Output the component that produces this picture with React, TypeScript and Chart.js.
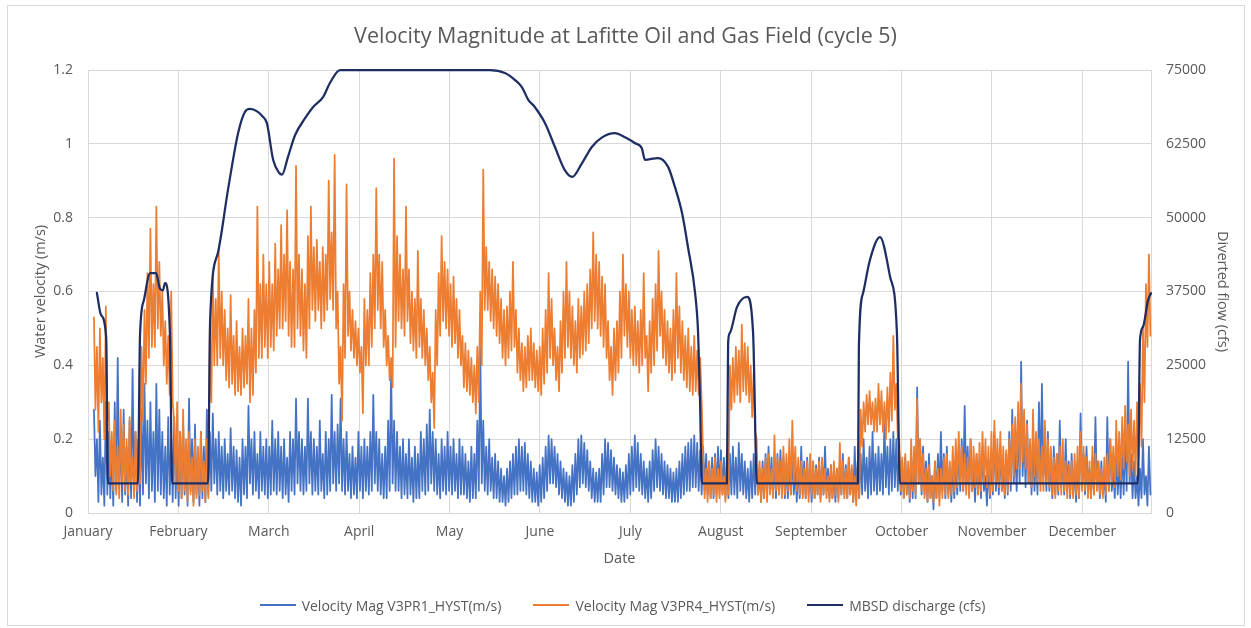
import React, { useEffect, useRef } from "react";
import { Chart, registerables } from "chart.js";

Chart.register(...registerables);

const CHART_TITLE = "Velocity Magnitude at Lafitte Oil and Gas Field (cycle 5)";
const X_TITLE = "Date";
const Y_LEFT_TITLE = "Water velocity (m/s)";
const Y_RIGHT_TITLE = "Diverted flow (cfs)";

const MONTH_LABELS = [
  "January", "February", "March", "April", "May", "June",
  "July", "August", "September", "October", "November", "December",
];
const DAYS_PER_MONTH = 365 / 12;
const LAST_DAY = 357.7;

const VELOCITY_MAX = 1.2;
const VELOCITY_STEP = 0.2;
const FLOW_MAX = 75000;
const FLOW_STEP = 12500;

const SERIES_NAMES = [
  "Velocity Mag V3PR1_HYST(m/s)",
  "Velocity Mag V3PR4_HYST(m/s)",
  "MBSD discharge (cfs)",
];

// Daily high / low of each velocity trace (m/s), first value on day 2
const VELOCITY_FIRST_DAY = 2;

const V3PR1_DAILY_HIGH = [
  0.28, 0.20, 0.25, 0.15, 0.30, 0.22, 0.18, 0.30, 0.42, 0.20,
  0.28, 0.18, 0.25, 0.39, 0.22, 0.20, 0.28, 0.35, 0.25, 0.30,
  0.22, 0.35, 0.28, 0.22, 0.18, 0.26, 0.20, 0.26, 0.18, 0.22,
  0.25, 0.18, 0.31, 0.20, 0.24, 0.16, 0.22, 0.18, 0.28, 0.22,
  0.27, 0.20, 0.22, 0.18, 0.20, 0.16, 0.23, 0.18, 0.17, 0.15,
  0.20, 0.18, 0.29, 0.20, 0.22, 0.16, 0.22, 0.18, 0.20, 0.18,
  0.25, 0.20, 0.22, 0.18, 0.20, 0.15, 0.22, 0.20, 0.31, 0.22,
  0.20, 0.18, 0.31, 0.22, 0.20, 0.18, 0.25, 0.16, 0.22, 0.20,
  0.32, 0.22, 0.24, 0.31, 0.20, 0.22, 0.16, 0.18, 0.15, 0.22,
  0.18, 0.20, 0.18, 0.22, 0.32, 0.22, 0.20, 0.16, 0.18, 0.25,
  0.39, 0.25, 0.22, 0.18, 0.20, 0.16, 0.20, 0.15, 0.18, 0.16,
  0.22, 0.20, 0.24, 0.28, 0.22, 0.20, 0.16, 0.20, 0.18, 0.22,
  0.18, 0.20, 0.16, 0.20, 0.18, 0.16, 0.14, 0.18, 0.16, 0.25,
  0.45, 0.25, 0.18, 0.20, 0.15, 0.16, 0.14, 0.12, 0.10, 0.12,
  0.14, 0.16, 0.18, 0.20, 0.18, 0.19, 0.16, 0.14, 0.12, 0.11,
  0.13, 0.15, 0.18, 0.21, 0.20, 0.18, 0.16, 0.14, 0.12, 0.11,
  0.10, 0.13, 0.16, 0.20, 0.21, 0.19, 0.17, 0.14, 0.12, 0.11,
  0.12, 0.16, 0.20, 0.19, 0.17, 0.15, 0.13, 0.12, 0.11, 0.13,
  0.16, 0.18, 0.21, 0.19, 0.16, 0.14, 0.12, 0.14, 0.17, 0.20,
  0.18, 0.16, 0.14, 0.13, 0.12, 0.11, 0.12, 0.14, 0.16, 0.18,
  0.19, 0.20, 0.21, 0.19, 0.17, 0.18, 0.16, 0.14, 0.15, 0.16,
  0.18, 0.17, 0.15, 0.14, 0.16, 0.18, 0.15, 0.19, 0.16, 0.14,
  0.12, 0.14, 0.16, 0.15, 0.12, 0.14, 0.16, 0.18, 0.15, 0.14,
  0.16, 0.17, 0.15, 0.13, 0.14, 0.16, 0.12, 0.13, 0.18, 0.14,
  0.15, 0.12, 0.14, 0.13, 0.15, 0.14, 0.18, 0.12, 0.13, 0.11,
  0.12, 0.14, 0.16, 0.13, 0.15, 0.12, 0.18, 0.14, 0.16, 0.20,
  0.15, 0.18, 0.22, 0.16, 0.18, 0.16, 0.25, 0.18, 0.20, 0.22,
  0.20, 0.16, 0.14, 0.15, 0.12, 0.14, 0.16, 0.34, 0.20, 0.18,
  0.14, 0.16, 0.10, 0.14, 0.16, 0.22, 0.16, 0.18, 0.12, 0.14,
  0.15, 0.18, 0.20, 0.29, 0.18, 0.20, 0.12, 0.16, 0.14, 0.18,
  0.10, 0.14, 0.16, 0.22, 0.16, 0.18, 0.12, 0.16, 0.22, 0.28,
  0.18, 0.24, 0.41, 0.22, 0.25, 0.16, 0.20, 0.18, 0.30, 0.35,
  0.18, 0.22, 0.14, 0.18, 0.16, 0.25, 0.15, 0.20, 0.14, 0.16,
  0.12, 0.14, 0.27, 0.16, 0.18, 0.12, 0.15, 0.26, 0.14, 0.14,
  0.10, 0.26, 0.20, 0.12, 0.16, 0.14, 0.18, 0.22, 0.41, 0.16,
  0.14, 0.10, 0.12, 0.20, 0.10, 0.18,
];

const V3PR1_DAILY_LOW = [
  0.10, 0.03, 0.05, 0.02, 0.05, 0.04, 0.02, 0.06, 0.08, 0.03,
  0.05, 0.02, 0.04, 0.06, 0.03, 0.02, 0.05, 0.08, 0.04, 0.06,
  0.03, 0.06, 0.05, 0.04, 0.02, 0.05, 0.03, 0.04, 0.02, 0.04,
  0.05, 0.02, 0.06, 0.03, 0.05, 0.02, 0.04, 0.03, 0.05, 0.06,
  0.08, 0.05, 0.06, 0.04, 0.06, 0.05, 0.06, 0.04, 0.03, 0.02,
  0.05, 0.04, 0.08, 0.05, 0.06, 0.04, 0.06, 0.05, 0.04, 0.05,
  0.06, 0.05, 0.06, 0.04, 0.05, 0.03, 0.06, 0.05, 0.08, 0.06,
  0.05, 0.06, 0.08, 0.05, 0.06, 0.05, 0.06, 0.04, 0.05, 0.06,
  0.08, 0.06, 0.08, 0.06, 0.05, 0.06, 0.04, 0.05, 0.04, 0.06,
  0.04, 0.06, 0.05, 0.06, 0.08, 0.06, 0.05, 0.04, 0.04, 0.06,
  0.08, 0.06, 0.06, 0.04, 0.05, 0.04, 0.05, 0.03, 0.04, 0.04,
  0.06, 0.05, 0.06, 0.08, 0.06, 0.05, 0.04, 0.06, 0.05, 0.06,
  0.05, 0.06, 0.04, 0.05, 0.05, 0.04, 0.03, 0.04, 0.04, 0.06,
  0.08, 0.06, 0.05, 0.06, 0.04, 0.04, 0.03, 0.03, 0.02, 0.03,
  0.04, 0.05, 0.05, 0.06, 0.06, 0.05, 0.04, 0.03, 0.03, 0.02,
  0.03, 0.04, 0.06, 0.08, 0.08, 0.07, 0.05, 0.04, 0.03, 0.02,
  0.02, 0.03, 0.05, 0.07, 0.08, 0.07, 0.06, 0.04, 0.03, 0.03,
  0.03, 0.05, 0.07, 0.07, 0.06, 0.05, 0.04, 0.03, 0.03, 0.04,
  0.05, 0.06, 0.07, 0.06, 0.05, 0.04, 0.03, 0.04, 0.06, 0.07,
  0.06, 0.05, 0.04, 0.04, 0.03, 0.03, 0.03, 0.04, 0.05, 0.06,
  0.06, 0.07, 0.07, 0.06, 0.05, 0.06, 0.05, 0.04, 0.04, 0.05,
  0.06, 0.05, 0.04, 0.04, 0.05, 0.05, 0.04, 0.06, 0.05, 0.04,
  0.03, 0.04, 0.05, 0.05, 0.03, 0.04, 0.05, 0.06, 0.05, 0.04,
  0.05, 0.06, 0.04, 0.04, 0.05, 0.05, 0.03, 0.04, 0.05, 0.04,
  0.05, 0.03, 0.04, 0.05, 0.04, 0.05, 0.06, 0.04, 0.04, 0.03,
  0.04, 0.05, 0.05, 0.04, 0.05, 0.03, 0.05, 0.04, 0.05, 0.06,
  0.04, 0.05, 0.06, 0.05, 0.06, 0.05, 0.07, 0.05, 0.06, 0.07,
  0.06, 0.05, 0.04, 0.05, 0.03, 0.04, 0.04, 0.08, 0.05, 0.05,
  0.03, 0.04, 0.01, 0.04, 0.05, 0.06, 0.04, 0.05, 0.03, 0.04,
  0.05, 0.06, 0.06, 0.08, 0.05, 0.06, 0.03, 0.05, 0.04, 0.06,
  0.02, 0.04, 0.05, 0.06, 0.05, 0.06, 0.04, 0.05, 0.06, 0.08,
  0.06, 0.08, 0.10, 0.07, 0.08, 0.05, 0.06, 0.05, 0.08, 0.10,
  0.06, 0.06, 0.04, 0.05, 0.05, 0.07, 0.05, 0.06, 0.04, 0.05,
  0.03, 0.04, 0.07, 0.05, 0.06, 0.04, 0.05, 0.07, 0.04, 0.05,
  0.03, 0.06, 0.06, 0.04, 0.05, 0.04, 0.05, 0.06, 0.08, 0.04,
  0.04, 0.02, 0.04, 0.05, 0.02, 0.05,
];

const V3PR4_DAILY_HIGH = [
  0.53, 0.45, 0.50, 0.42, 0.56, 0.30, 0.22, 0.25, 0.18, 0.28,
  0.24, 0.20, 0.26, 0.15, 0.22, 0.20, 0.45, 0.55, 0.65, 0.77,
  0.62, 0.83, 0.68, 0.60, 0.52, 0.48, 0.60, 0.25, 0.30, 0.22,
  0.28, 0.20, 0.22, 0.15, 0.20, 0.18, 0.22, 0.14, 0.20, 0.50,
  0.65, 0.58, 0.71, 0.60, 0.55, 0.50, 0.59, 0.48, 0.52, 0.45,
  0.50, 0.48, 0.58, 0.50, 0.55, 0.83, 0.62, 0.70, 0.62, 0.68,
  0.62, 0.73, 0.66, 0.78, 0.70, 0.82, 0.68, 0.66, 0.94, 0.70,
  0.66, 0.62, 0.75, 0.83, 0.72, 0.74, 0.68, 0.72, 0.70, 0.90,
  0.76, 0.97, 0.60, 0.45, 0.62, 0.89, 0.60, 0.55, 0.52, 0.50,
  0.45, 0.58, 0.55, 0.65, 0.70, 0.88, 0.70, 0.68, 0.55, 0.48,
  0.42, 0.96, 0.75, 0.70, 0.66, 0.83, 0.66, 0.60, 0.58, 0.71,
  0.58, 0.55, 0.50, 0.45, 0.38, 0.55, 0.65, 0.75, 0.68, 0.66,
  0.62, 0.64, 0.58, 0.55, 0.48, 0.46, 0.44, 0.42, 0.40, 0.45,
  0.60, 0.93, 0.72, 0.68, 0.66, 0.64, 0.62, 0.58, 0.55, 0.56,
  0.60, 0.68, 0.55, 0.50, 0.46, 0.45, 0.48, 0.50, 0.46, 0.44,
  0.45, 0.50, 0.55, 0.65, 0.58, 0.50, 0.45, 0.52, 0.60, 0.68,
  0.60, 0.56, 0.52, 0.58, 0.56, 0.60, 0.62, 0.66, 0.76, 0.70,
  0.68, 0.64, 0.62, 0.52, 0.45, 0.50, 0.52, 0.60, 0.70, 0.62,
  0.60, 0.55, 0.56, 0.52, 0.55, 0.65, 0.48, 0.52, 0.58, 0.62,
  0.71, 0.60, 0.55, 0.52, 0.50, 0.55, 0.65, 0.56, 0.52, 0.48,
  0.50, 0.45, 0.48, 0.44, 0.42, 0.15, 0.12, 0.14, 0.12, 0.15,
  0.12, 0.14, 0.10, 0.18, 0.40, 0.42, 0.45, 0.44, 0.51, 0.46,
  0.45, 0.40, 0.38, 0.20, 0.14, 0.12, 0.15, 0.16, 0.12, 0.21,
  0.15, 0.14, 0.18, 0.16, 0.20, 0.25, 0.18, 0.15, 0.14, 0.12,
  0.14, 0.16, 0.14, 0.12, 0.14, 0.15, 0.12, 0.10, 0.13, 0.14,
  0.12, 0.19, 0.14, 0.12, 0.15, 0.13, 0.10, 0.12, 0.28, 0.30,
  0.32, 0.33, 0.30, 0.31, 0.35, 0.33, 0.30, 0.34, 0.38, 0.48,
  0.35, 0.20, 0.15, 0.16, 0.14, 0.20, 0.18, 0.31, 0.20, 0.16,
  0.12, 0.13, 0.10, 0.14, 0.12, 0.12, 0.15, 0.16, 0.14, 0.18,
  0.20, 0.22, 0.18, 0.16, 0.15, 0.20, 0.18, 0.16, 0.19, 0.22,
  0.20, 0.18, 0.22, 0.25, 0.20, 0.22, 0.18, 0.17, 0.20, 0.24,
  0.26, 0.30, 0.35, 0.28, 0.24, 0.20, 0.28, 0.22, 0.20, 0.18,
  0.25, 0.20, 0.18, 0.15, 0.16, 0.18, 0.20, 0.14, 0.13, 0.14,
  0.16, 0.18, 0.22, 0.18, 0.15, 0.14, 0.18, 0.16, 0.14, 0.12,
  0.15, 0.16, 0.20, 0.18, 0.25, 0.22, 0.26, 0.29, 0.24, 0.28,
  0.25, 0.30, 0.35, 0.50, 0.62, 0.70,
];

const V3PR4_DAILY_LOW = [
  0.28, 0.22, 0.30, 0.20, 0.25, 0.10, 0.06, 0.05, 0.04, 0.08,
  0.06, 0.05, 0.08, 0.04, 0.06, 0.08, 0.25, 0.35, 0.42, 0.45,
  0.45, 0.50, 0.48, 0.40, 0.35, 0.32, 0.30, 0.08, 0.06, 0.04,
  0.06, 0.03, 0.05, 0.02, 0.04, 0.05, 0.06, 0.03, 0.04, 0.30,
  0.40, 0.40, 0.42, 0.40, 0.36, 0.34, 0.35, 0.32, 0.33, 0.32,
  0.34, 0.35, 0.30, 0.32, 0.38, 0.42, 0.42, 0.45, 0.42, 0.45,
  0.44, 0.48, 0.50, 0.50, 0.52, 0.48, 0.45, 0.45, 0.50, 0.48,
  0.44, 0.42, 0.50, 0.55, 0.52, 0.55, 0.50, 0.52, 0.55, 0.58,
  0.55, 0.50, 0.35, 0.25, 0.42, 0.48, 0.44, 0.42, 0.40, 0.38,
  0.27, 0.40, 0.40, 0.45, 0.50, 0.55, 0.50, 0.45, 0.40, 0.36,
  0.34, 0.45, 0.52, 0.50, 0.48, 0.52, 0.46, 0.44, 0.42, 0.45,
  0.42, 0.40, 0.36, 0.30, 0.23, 0.40, 0.48, 0.52, 0.50, 0.48,
  0.45, 0.46, 0.42, 0.40, 0.34, 0.33, 0.32, 0.30, 0.27, 0.30,
  0.40, 0.55, 0.55, 0.52, 0.50, 0.48, 0.46, 0.42, 0.40, 0.42,
  0.44, 0.45, 0.38, 0.36, 0.33, 0.34, 0.36, 0.36, 0.34, 0.33,
  0.32, 0.35, 0.38, 0.42, 0.40, 0.36, 0.33, 0.38, 0.42, 0.45,
  0.42, 0.40, 0.38, 0.42, 0.43, 0.44, 0.46, 0.50, 0.52, 0.50,
  0.48, 0.45, 0.42, 0.36, 0.32, 0.36, 0.38, 0.42, 0.48, 0.45,
  0.42, 0.40, 0.40, 0.38, 0.40, 0.42, 0.33, 0.38, 0.40, 0.44,
  0.48, 0.42, 0.40, 0.38, 0.36, 0.38, 0.42, 0.38, 0.36, 0.34,
  0.33, 0.32, 0.33, 0.32, 0.30, 0.04, 0.03, 0.04, 0.05, 0.03,
  0.04, 0.05, 0.03, 0.05, 0.28, 0.30, 0.32, 0.30, 0.33, 0.32,
  0.30, 0.26, 0.22, 0.05, 0.03, 0.04, 0.03, 0.05, 0.04, 0.06,
  0.05, 0.04, 0.05, 0.06, 0.05, 0.08, 0.06, 0.05, 0.04, 0.04,
  0.03, 0.05, 0.04, 0.05, 0.03, 0.05, 0.04, 0.03, 0.04, 0.05,
  0.03, 0.05, 0.04, 0.04, 0.05, 0.03, 0.02, 0.04, 0.18, 0.22,
  0.24, 0.24, 0.22, 0.22, 0.24, 0.22, 0.20, 0.22, 0.25, 0.28,
  0.20, 0.06, 0.04, 0.05, 0.04, 0.06, 0.05, 0.08, 0.06, 0.04,
  0.03, 0.04, 0.03, 0.04, 0.02, 0.04, 0.05, 0.04, 0.05, 0.06,
  0.07, 0.08, 0.06, 0.05, 0.04, 0.06, 0.07, 0.05, 0.06, 0.08,
  0.07, 0.05, 0.06, 0.08, 0.07, 0.06, 0.05, 0.06, 0.08, 0.10,
  0.12, 0.12, 0.14, 0.12, 0.08, 0.07, 0.10, 0.08, 0.06, 0.06,
  0.08, 0.07, 0.05, 0.04, 0.06, 0.05, 0.06, 0.04, 0.05, 0.04,
  0.05, 0.04, 0.06, 0.06, 0.04, 0.04, 0.05, 0.06, 0.05, 0.04,
  0.05, 0.06, 0.08, 0.07, 0.10, 0.09, 0.12, 0.14, 0.10, 0.12,
  0.10, 0.15, 0.18, 0.30, 0.45, 0.48,
];

const DISCHARGE_DAY = [
  3.0, 4.4, 6.1, 6.7,
  16.8, 17.5, 18.8, 20.9, 22.9, 24.2, 25.2, 25.9, 27.6, 28.3,
  40.4, 41.1, 43.7, 47.1, 50.5, 52.8, 54.5, 56.9, 58.6, 60.2,
  62.3, 64.3, 65.3, 67.3, 69.7, 73.0, 75.7, 79.1, 81.4, 84.8,
  135.3, 140.3, 143.7, 146.0, 148.1, 150.4, 153.8, 157.1, 160.5, 162.9,
  166.2, 169.6, 173.0, 177.3, 180.7, 184.1, 186.4, 187.4, 191.8, 195.2,
  197.5, 199.9, 201.9, 204.3, 205.3, 205.9, 206.6,
  215.0, 215.4, 216.0, 218.4, 221.8, 223.8, 225.1,
  259.1, 259.4, 260.8, 263.1, 266.5, 269.9, 272.2, 273.2,
  353.3, 354.0, 355.0, 356.7, 357.7,
];

const DISCHARGE_CFS = [
  37250, 33500, 29800, 5000,
  5000, 30000, 36000, 40600, 40600, 38000, 37700, 38900, 29800, 5000,
  5000, 32700, 44000, 54700, 64300, 67900, 68400, 68000, 67200, 66000,
  59800, 57600, 57300, 60300, 64000, 66800, 68700, 70400, 72800, 75000,
  75000, 74500, 73300, 72100, 70000, 68700, 66000, 62000, 58000, 56900,
  59200, 62000, 63600, 64300, 63600, 62600, 61700, 59800, 60100, 58600,
  55200, 50800, 45000, 37200, 30500, 20300, 5000,
  5000, 28800, 30500, 34900, 36600, 30500, 5000,
  5000, 28100, 37200, 42800, 46700, 40000, 30500, 5000,
  5000, 29300, 31500, 36000, 37200,
];

const COLOR_BLUE = "#4472C4";
const COLOR_ORANGE = "#ED7D31";
const COLOR_NAVY = "#1E2E63";
const TEXT_COLOR = "#595959";
const GRID_COLOR = "#d9d9d9";
const FONT_FAMILY = "'Open Sans', sans-serif";

const SERIES_COLORS = [COLOR_BLUE, COLOR_ORANGE, COLOR_NAVY];

// trace of a velocity record: daily high, then daily low half a day later
function dailyTrace(high: number[], low: number[]) {
  const pts: { x: number; y: number }[] = [];
  high.forEach((h, i) => {
    const day = VELOCITY_FIRST_DAY + i;
    pts.push({ x: day, y: h });
    pts.push({ x: day + 0.5, y: low[i] });
  });
  return pts;
}

export default function App() {
  const canvasRef = useRef<HTMLCanvasElement | null>(null);

  useEffect(() => {
    document.body.style.margin = "0";
    const canvas = canvasRef.current;
    if (!canvas) return;

    const blue = dailyTrace(V3PR1_DAILY_HIGH, V3PR1_DAILY_LOW);
    const orange = dailyTrace(V3PR4_DAILY_HIGH, V3PR4_DAILY_LOW);
    const navy = DISCHARGE_CFS.map((q, i) => ({ x: DISCHARGE_DAY[i], y: q }));

    const tickFont = { family: FONT_FAMILY, size: 14 };
    const titleFont = { family: FONT_FAMILY, size: 14.5 };

    const chart = new Chart(canvas, {
      type: "line",
      data: {
        datasets: [
          {
            label: SERIES_NAMES[0],
            data: blue,
            yAxisID: "y",
            borderColor: COLOR_BLUE,
            backgroundColor: COLOR_BLUE,
            borderWidth: 1.75,
            pointRadius: 0,
            tension: 0,
            borderJoinStyle: "round",
            borderCapStyle: "round",
            order: 2,
            clip: 4,
          },
          {
            label: SERIES_NAMES[1],
            data: orange,
            yAxisID: "y",
            borderColor: COLOR_ORANGE,
            backgroundColor: COLOR_ORANGE,
            borderWidth: 1.75,
            pointRadius: 0,
            tension: 0,
            borderJoinStyle: "round",
            borderCapStyle: "round",
            order: 1,
            clip: 4,
          },
          {
            label: SERIES_NAMES[2],
            data: navy,
            yAxisID: "y1",
            borderColor: COLOR_NAVY,
            backgroundColor: COLOR_NAVY,
            borderWidth: 2.25,
            pointRadius: 0,
            cubicInterpolationMode: "monotone",
            borderJoinStyle: "round",
            borderCapStyle: "round",
            order: 0,
            clip: 4,
          },
        ],
      },
      options: {
        animation: false,
        responsive: false,
        maintainAspectRatio: false,
        events: [],
        layout: { padding: 0 },
        plugins: {
          legend: { display: false },
          tooltip: { enabled: false },
          title: {
            display: true,
            text: CHART_TITLE,
            color: TEXT_COLOR,
            font: { family: FONT_FAMILY, size: 21.5, weight: "normal" },
            padding: { top: 24, bottom: 20.2 },
          },
        },
        scales: {
          x: {
            type: "linear",
            min: 0,
            max: LAST_DAY,
            afterBuildTicks: (scale: any) => {
              scale.ticks = MONTH_LABELS.map((_, i) => ({ value: i * DAYS_PER_MONTH }));
            },
            afterFit: (scale: any) => {
              scale.height = 115;
            },
            ticks: {
              callback: (_v: any, i: number) => MONTH_LABELS[i],
              autoSkip: false,
              maxRotation: 0,
              color: TEXT_COLOR,
              font: tickFont,
              padding: 11,
            },
            grid: { color: GRID_COLOR, drawTicks: false, lineWidth: 1 },
            border: { display: true, color: GRID_COLOR },
            title: {
              display: true,
              text: X_TITLE,
              color: TEXT_COLOR,
              font: titleFont,
              padding: { top: 0, bottom: 60 },
            },
          },
          y: {
            position: "left",
            min: 0,
            max: VELOCITY_MAX,
            afterFit: (scale: any) => {
              scale.width = 88;
            },
            ticks: {
              stepSize: VELOCITY_STEP,
              color: TEXT_COLOR,
              font: tickFont,
              padding: 15,
              callback: (v: any) => String(Math.round(Number(v) * 10) / 10),
            },
            grid: { color: GRID_COLOR, drawTicks: false, lineWidth: 1 },
            border: { display: true, color: GRID_COLOR },
            title: {
              display: true,
              text: Y_LEFT_TITLE,
              color: TEXT_COLOR,
              font: titleFont,
              padding: { top: 32, bottom: 0 },
            },
          },
          y1: {
            position: "right",
            min: 0,
            max: FLOW_MAX,
            afterFit: (scale: any) => {
              scale.width = 100;
            },
            ticks: {
              stepSize: FLOW_STEP,
              color: TEXT_COLOR,
              font: tickFont,
              padding: 15,
              callback: (v: any) => String(v),
            },
            grid: { display: false, drawTicks: false },
            border: { display: true, color: GRID_COLOR },
            title: {
              display: true,
              text: Y_RIGHT_TITLE,
              color: TEXT_COLOR,
              font: titleFont,
              padding: { top: 20, bottom: 0 },
            },
          },
        },
      },
    } as any);

    return () => chart.destroy();
  }, []);

  return (
    <div
      style={{
        position: "fixed",
        left: 0,
        top: 0,
        width: 1251,
        height: 628,
        background: "#ffffff",
        overflow: "hidden",
      }}
    >
      <div
        style={{
          position: "absolute",
          left: 7,
          top: 5,
          width: 1238,
          height: 621,
          border: `1px solid ${GRID_COLOR}`,
          boxSizing: "border-box",
        }}
      />
      <canvas
        ref={canvasRef}
        width={1251}
        height={628}
        style={{ position: "absolute", left: 0, top: 0, width: 1251, height: 628 }}
      />
      <div
        style={{
          position: "absolute",
          left: 0,
          top: 596,
          width: 1245,
          height: 18,
          display: "flex",
          justifyContent: "center",
          alignItems: "center",
          gap: 32,
          fontFamily: FONT_FAMILY,
          fontSize: 14,
          color: TEXT_COLOR,
          whiteSpace: "nowrap",
        }}
      >
        {SERIES_NAMES.map((name, i) => (
          <div key={name} style={{ display: "flex", alignItems: "center" }}>
            <span
              style={{
                display: "inline-block",
                width: 36,
                height: i === 2 ? 2.5 : 2,
                background: SERIES_COLORS[i],
                marginRight: 6,
              }}
            />
            <span>{name}</span>
          </div>
        ))}
      </div>
    </div>
  );
}
